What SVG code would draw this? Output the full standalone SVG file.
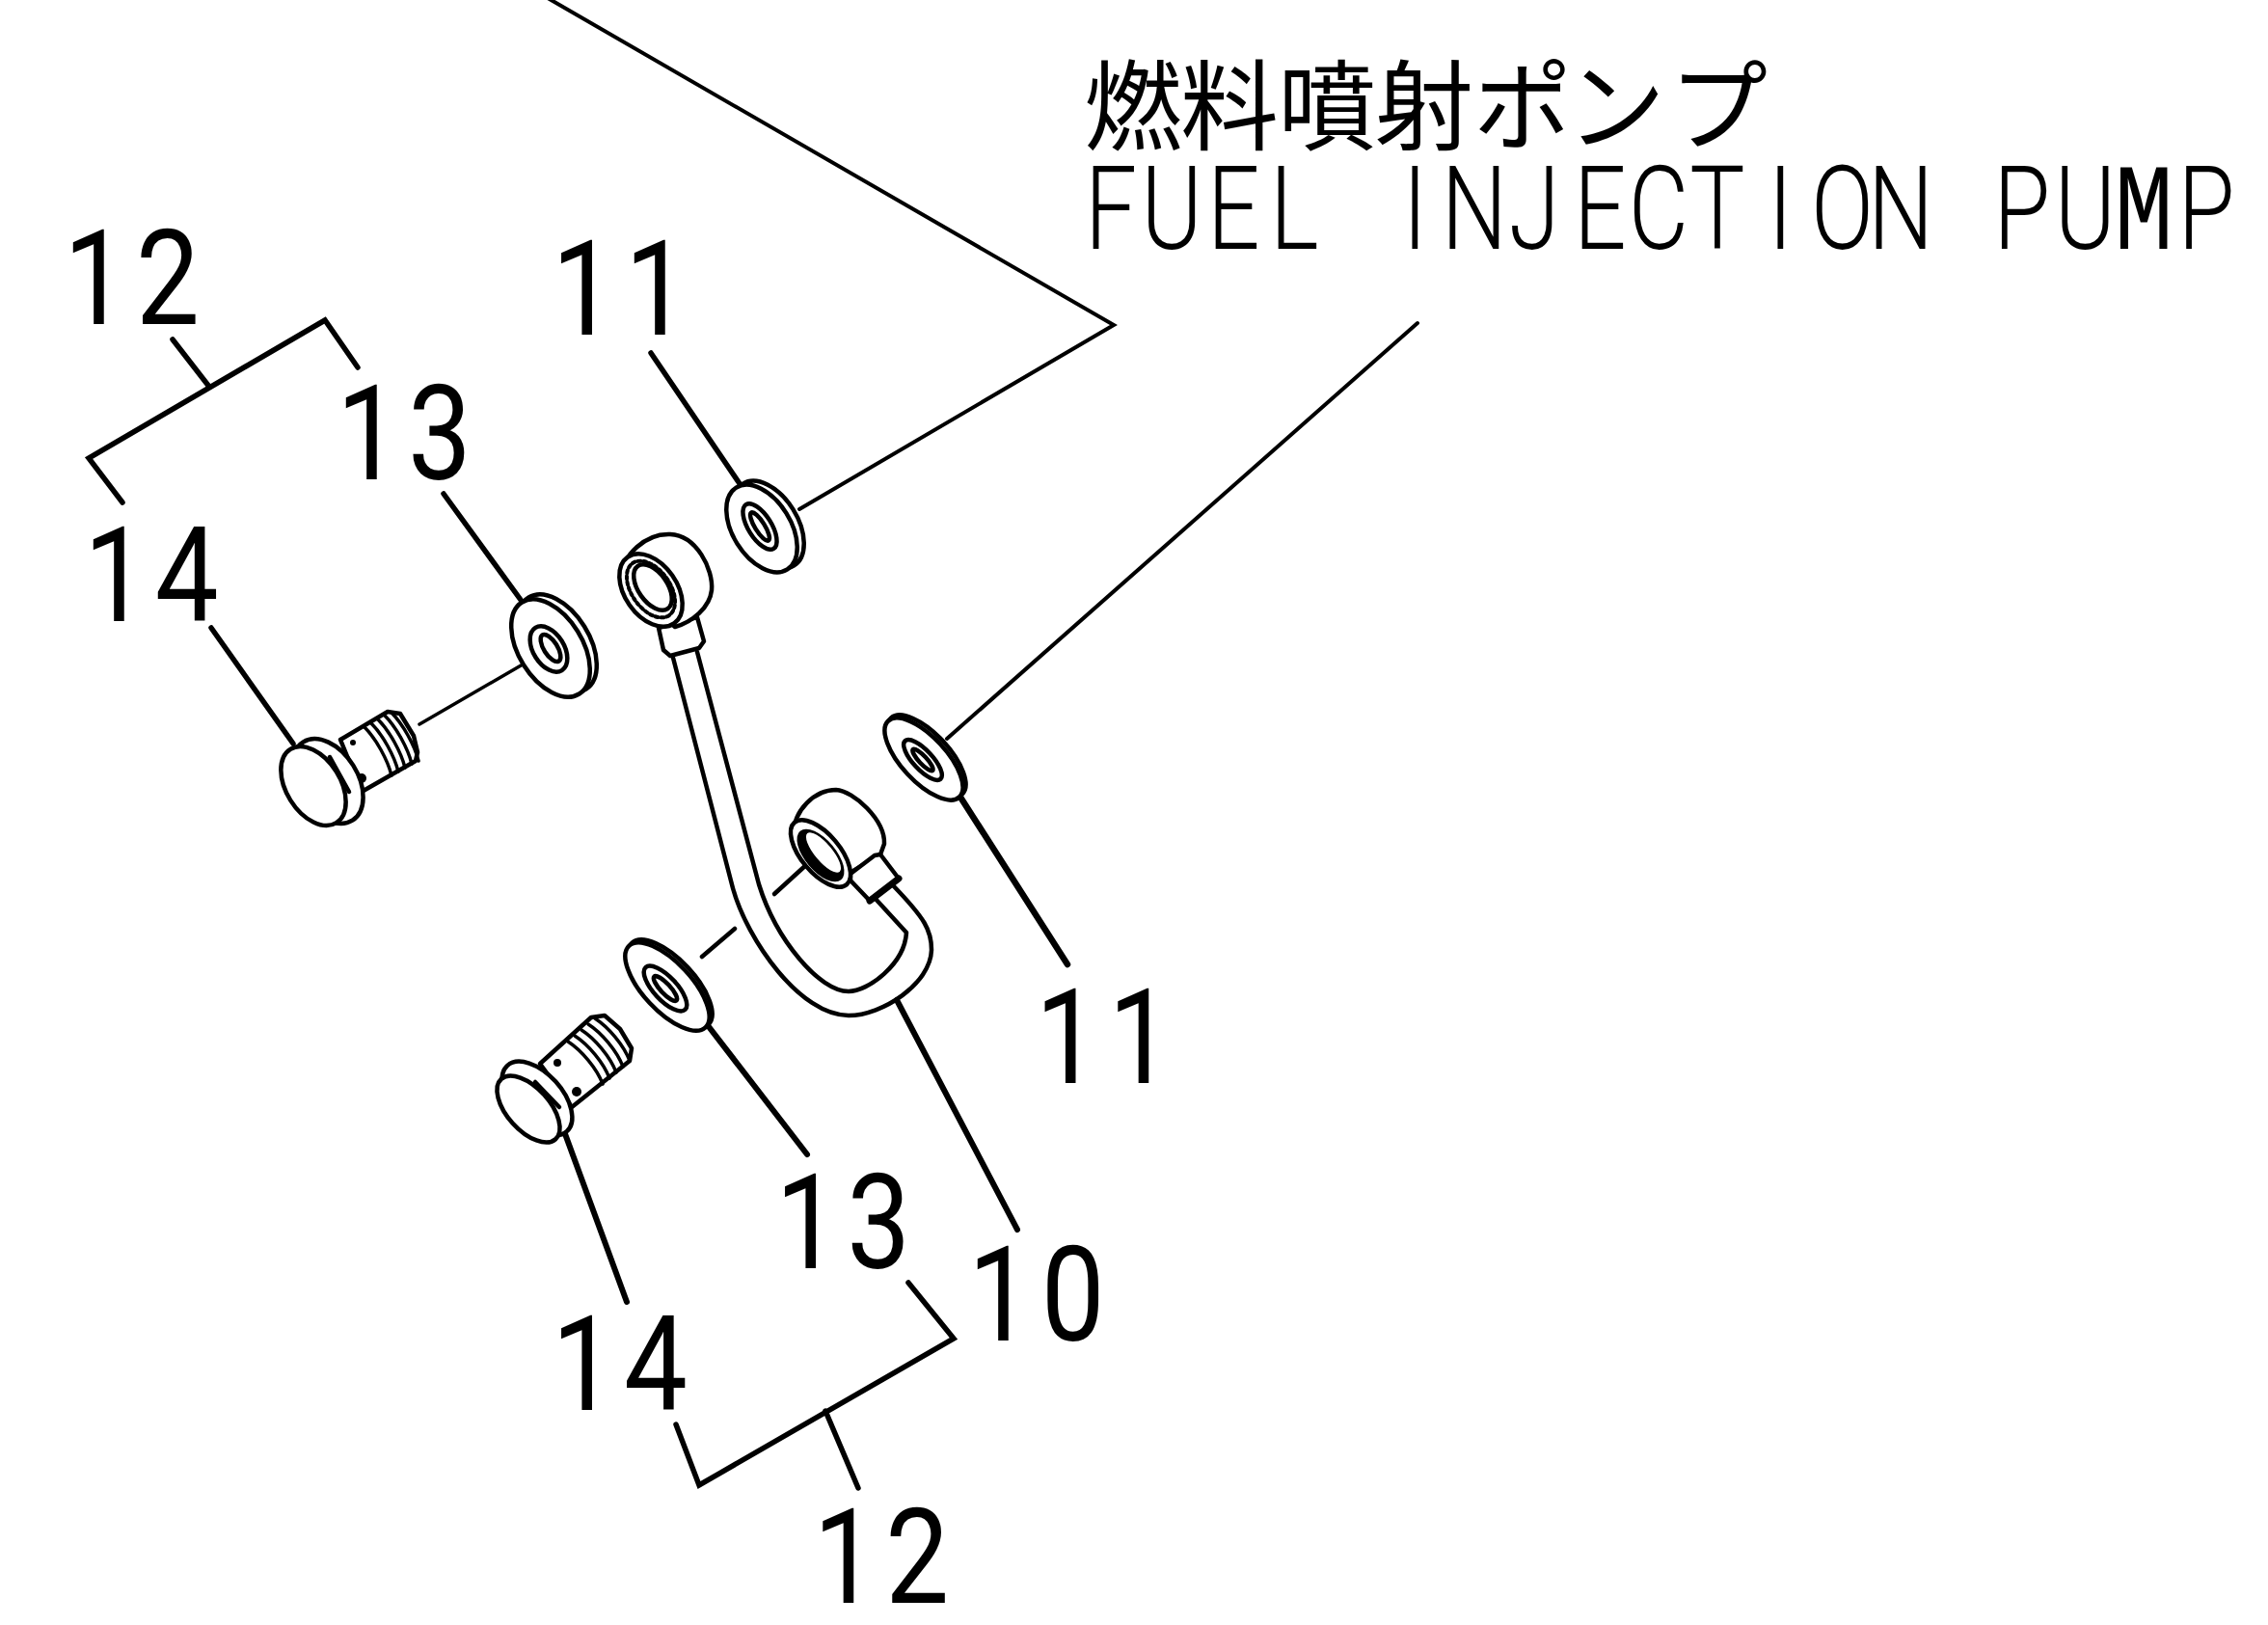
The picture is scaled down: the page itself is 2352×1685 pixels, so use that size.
<svg xmlns="http://www.w3.org/2000/svg" xmlns:xlink="http://www.w3.org/1999/xlink" width="2352" height="1685" viewBox="0 0 2352 1685">
<style>
.p{fill:#fff;stroke:#000;stroke-width:4.5;stroke-linejoin:round;stroke-linecap:round}
.o{fill:none;stroke:#000;stroke-width:4.5;stroke-linejoin:round;stroke-linecap:round}
.t{fill:none;stroke:#000;stroke-width:3.5;stroke-linecap:round}
.l{fill:none;stroke:#000;stroke-width:5.5;stroke-linejoin:miter;stroke-linecap:round}
.n{font-family:Roboto,"Open Sans",sans-serif;font-size:138px;font-weight:400;fill:#000;text-anchor:middle}
.e{font-family:Roboto,"Open Sans",sans-serif;font-size:120px;font-weight:300;fill:#000;text-anchor:middle}
.m{font-family:"Liberation Mono",monospace;font-size:128px;font-weight:400}
.j{font-family:"Noto Sans CJK JP",sans-serif;font-size:102px;font-weight:400;fill:#000;text-anchor:middle}
</style>
<defs>
<path id="th1" class="t" d="M0 0C12 12 24 34 28 50"/>
<path id="th2" class="t" d="M0 0C14 9 30 28 36 44"/>
</defs>
<rect width="2352" height="1685" fill="#fff"/>
<g id="connectors">
<path class="l" style="stroke-width:4" d="M568-2L1155 337L829 528"/>
<path class="l" style="stroke-width:4" d="M1470 335L982 766"/>
<path class="l" style="stroke-width:6.5" d="M995 825L1107 1000"/>
<path class="l" d="M675 366L768 503"/>
<path class="l" d="M371 381L337 332L92 475L127 521"/>
<path class="l" d="M179 352L217 401"/>
<path class="l" d="M460 512L540 622"/>
<path class="l" d="M219 651L304 771"/>
<path class="l" style="stroke-width:3.5" d="M435 751L542 689"/>
<path class="l" style="stroke-width:4.5" d="M728 992L762 963"/>
<path class="l" style="stroke-width:4.5" d="M803 927L837 896"/>
<path class="l" style="stroke-width:6" d="M733 1062L837 1197"/>
<path class="l" style="stroke-width:6" d="M585 1173L650 1350"/>
<path class="l" style="stroke-width:6" d="M930 1037L1055 1275"/>
<path class="l" d="M942 1330L989 1388L725 1540L701 1477"/>
<path class="l" d="M856 1463L890 1543"/>
</g>
<g id="pipe-10">
<path class="o" d="M698 682L760 921C775 975 830 1053 880 1053C915 1053 965 1020 966 985C966 965 960 953 925 917"/>
<path class="o" d="M723 676L787 917C805 975 850 1028 880 1028C900 1028 938 1000 940 967L907 931"/>
<path class="p" d="M683 651L688 674L695 680L725 672L730 665L723 640Z"/>
<path class="p" d="M644 600C645 575 670 553 695 554C722 555 740 590 738 612C736 630 718 645 700 650Z"/>
<ellipse class="p" cx="675" cy="612" rx="42" ry="27" transform="rotate(55 675 612)"/>
<ellipse class="t" style="stroke-width:4;stroke-dasharray:3 3" cx="675" cy="611" rx="33" ry="20" transform="rotate(55 675 611)"/>
<ellipse class="p" cx="677" cy="609" rx="27" ry="15" transform="rotate(55 677 609)"/>
<path class="p" d="M823 865C823 840 845 819 867 819C885 820 918 850 917 875L913 886L880 906Z"/>
<path class="p" d="M882 906L907 887L913 886L932 911L902 934L882 913Z"/>
<path class="o" style="stroke-width:7" d="M902 934L932 911"/>
<ellipse class="p" cx="851" cy="885" rx="42" ry="20" transform="rotate(50 851 885)"/>
<ellipse cx="851" cy="887" rx="33" ry="16" transform="rotate(50 851 887)"/>
<ellipse cx="854" cy="884" rx="26" ry="9" fill="#fff" transform="rotate(50 854 884)"/>
</g>
<g id="washer-11-upper">
<ellipse class="p" cx="797" cy="544" rx="50" ry="30" transform="rotate(58 797 544)"/>
<ellipse class="p" cx="790" cy="548" rx="50" ry="30" transform="rotate(58 790 548)"/>
<ellipse class="o" cx="788" cy="546" rx="27" ry="12" transform="rotate(58 788 546)"/>
<ellipse class="o" cx="788" cy="546" rx="17" ry="5" transform="rotate(58 788 546)"/>
</g>
<g id="washer-13-upper">
<ellipse class="p" cx="578" cy="667" rx="56" ry="33" transform="rotate(58 578 667)"/>
<ellipse class="p" cx="571" cy="672" rx="56" ry="33" transform="rotate(58 571 672)"/>
<ellipse class="o" cx="569" cy="673" rx="26" ry="16" transform="rotate(58 569 673)"/>
<ellipse class="o" cx="571" cy="672" rx="16" ry="7" transform="rotate(58 571 672)"/>
</g>
<g id="washer-11-right">
<ellipse class="p" cx="961" cy="784" rx="54" ry="23" transform="rotate(47 961 784)"/>
<ellipse class="p" cx="958" cy="787" rx="54" ry="23" transform="rotate(47 958 787)"/>
<ellipse class="o" cx="957" cy="788" rx="27" ry="10" transform="rotate(47 957 788)"/>
<ellipse class="o" cx="957" cy="788" rx="15" ry="4" transform="rotate(47 957 788)"/>
</g>
<g id="washer-13-lower">
<ellipse class="p" cx="695" cy="1020" rx="58" ry="25" transform="rotate(47 695 1020)"/>
<ellipse class="p" cx="692" cy="1023" rx="58" ry="25" transform="rotate(47 692 1023)"/>
<ellipse class="o" cx="690" cy="1025" rx="30" ry="12" transform="rotate(47 690 1025)"/>
<ellipse class="o" cx="690" cy="1025" rx="17" ry="5" transform="rotate(47 690 1025)"/>
</g>
<g id="bolt-14-upper">
<path class="p" d="M353 767L402 738L415 740L429 763L433 780L431 789L375 821Z"/>
<use xlink:href="#th1" href="#th1" transform="translate(406 739)"/>
<use xlink:href="#th1" href="#th1" transform="translate(399 742)"/>
<use xlink:href="#th1" href="#th1" transform="translate(392 746)"/>
<use xlink:href="#th1" href="#th1" transform="translate(385 750)"/>
<use xlink:href="#th1" href="#th1" transform="translate(378 754)"/>
<circle cx="375" cy="807" r="5"/>
<circle cx="366" cy="770" r="3"/>
<ellipse class="p" cx="340" cy="810" rx="48" ry="31" transform="rotate(58 340 810)"/>
<path class="o" d="M342 785L362 821"/>
<ellipse class="p" cx="325" cy="815" rx="45" ry="28" transform="rotate(58 325 815)"/>
</g>
<g id="bolt-14-lower">
<path class="p" d="M560 1103L613 1055L627 1053L643 1067L655 1087L653 1100L593 1148Z"/>
<use xlink:href="#th2" href="#th2" transform="translate(617 1056)"/>
<use xlink:href="#th2" href="#th2" transform="translate(610 1062)"/>
<use xlink:href="#th2" href="#th2" transform="translate(603 1068)"/>
<use xlink:href="#th2" href="#th2" transform="translate(596 1074)"/>
<use xlink:href="#th2" href="#th2" transform="translate(589 1080)"/>
<circle cx="578" cy="1102" r="4"/>
<circle cx="598" cy="1132" r="5"/>
<ellipse class="p" cx="557" cy="1139" rx="46" ry="26" transform="rotate(48 557 1139)"/>
<path class="o" d="M555 1122L580 1148"/>
<ellipse class="p" cx="548" cy="1150" rx="42" ry="22" transform="rotate(48 548 1150)"/>
</g>
<g id="labels">
<text class="n" transform="translate(0 336) scale(.85 1)" x="116.4 204.7">12</text>
<text class="n" transform="translate(0 497) scale(.85 1)" x="449.4 536.5">13</text>
<text class="n" transform="translate(0 644) scale(.85 1)" x="141 228">14</text>
<text class="n" transform="translate(0 347) scale(.85 1)" x="712 801">11</text>
<text class="n" transform="translate(0 1123) scale(.85 1)" x="1302 1391">11</text>
<text class="n" transform="translate(0 1315) scale(.85 1)" x="985 1072">13</text>
<text class="n" transform="translate(0 1390) scale(.85 1)" x="1220 1309">10</text>
<text class="n" transform="translate(0 1462) scale(.85 1)" x="712 800">14</text>
<text class="n" transform="translate(0 1662) scale(.85 1)" x="1031 1119">12</text>
<text class="j" y="148" x="1175 1275 1376 1477 1579 1676 1782">燃料噴射ポンプ</text>
<text class="e" transform="translate(0 258) scale(.8 1)" x="1440 1519 1599 1678 1756 1834 1911 1989 2074 2150 2226 2308 2388 2464 2544 2621 2703 2779 2860">FUEL INJECTION PU<tspan class="m">M</tspan>P</text>
</g>
</svg>
